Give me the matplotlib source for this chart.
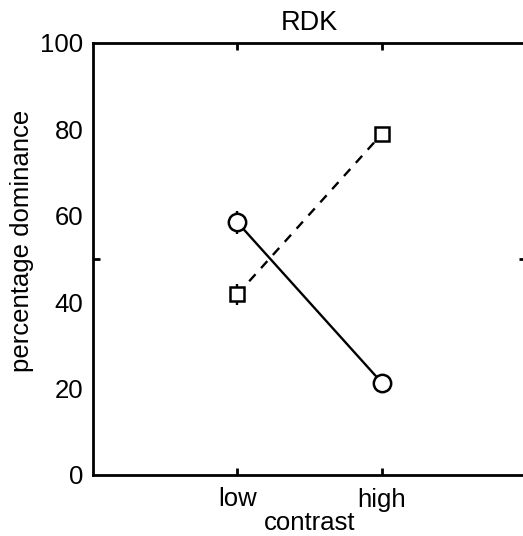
import matplotlib.pyplot as plt
import numpy as np

plt.rcParams['font.family'] = ['Liberation Sans', 'DejaVu Sans']

# contrast conditions
conditions = ["low", "high"]
xpos = [1, 2]

# percentage dominance, circles (solid) and squares (dashed)
circle_vals = [58.5, 21.4]
circle_err = [2.6, 1.0]
square_vals = [41.8, 78.9]
square_err = [2.4, 1.0]

ytick_vals = [0, 20, 40, 60, 80, 100]

fig = plt.figure(figsize=(5.23, 5.36), dpi=100)
ax = fig.add_axes([93/523, 61/536, 433/523, 432/536])

ax.errorbar(xpos, circle_vals, yerr=circle_err, color="k", lw=1.7,
            marker="o", ms=12.5, mfc="white", mec="k", mew=1.8,
            capsize=0, elinewidth=1.7, zorder=3)
ax.errorbar(xpos, square_vals, yerr=square_err, color="k", lw=1.7,
            ls=(0, (4, 3.5)), marker="s", ms=10.5, mfc="white", mec="k",
            mew=1.8, capsize=0, elinewidth=1.7, zorder=3)

ax.set_xlim(0, 3)
ax.set_ylim(0, 100)
ax.set_xticks(xpos)
ax.set_xticklabels(conditions, fontsize=18.5)
ax.set_yticks(ytick_vals)
ax.set_yticklabels([str(v) for v in ytick_vals], fontsize=18.5)
ax.tick_params(axis="y", length=0, pad=7)
ax.tick_params(axis="x", direction="in", length=5, width=2, top=True, pad=9)
ax.set_yticks([50], minor=True)
ax.tick_params(axis="y", which="minor", direction="in", length=5, width=2,
               left=True, right=True)

for s in ax.spines.values():
    s.set_linewidth(2)

ax.set_title("RDK", fontsize=19.5, pad=9)
ax.set_xlabel("contrast", fontsize=18.5, labelpad=0)
ax.set_ylabel("percentage dominance", fontsize=18.5)
ax.yaxis.set_label_coords(-0.137, 0.542)

fig.savefig("out.png", dpi=100)
